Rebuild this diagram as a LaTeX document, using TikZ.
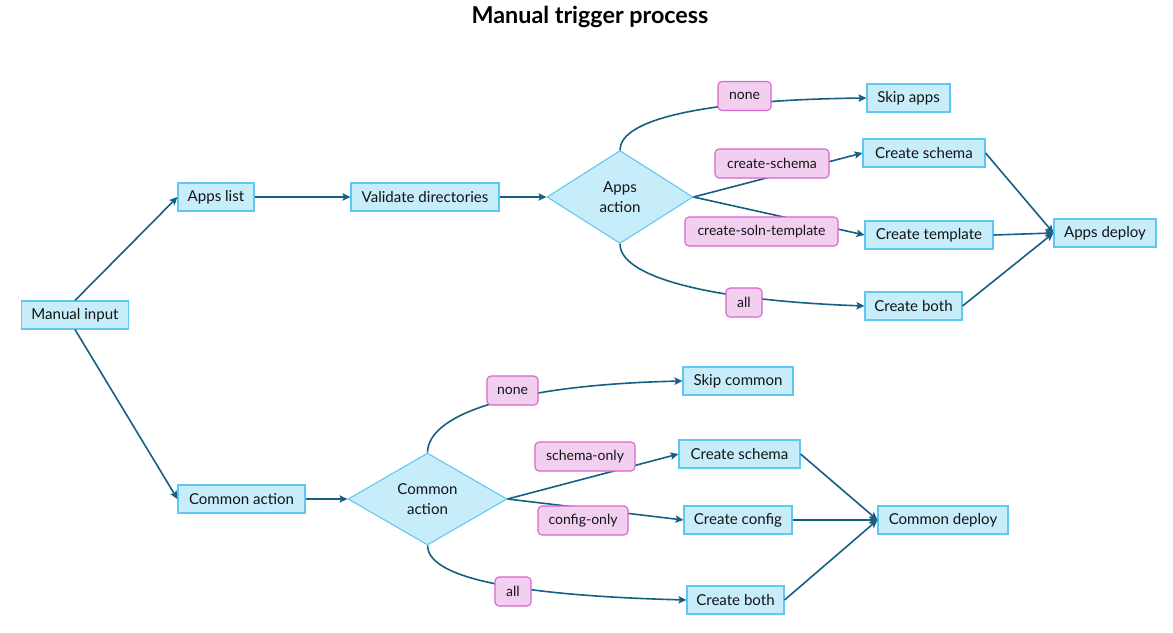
\documentclass[tikz,border=0pt]{standalone}
\usepackage{fontspec}
\setmainfont{Lato}
\usetikzlibrary{shapes.geometric,arrows.meta}
\definecolor{boxfill}{RGB}{199,236,250}
\definecolor{boxline}{RGB}{96,200,240}
\definecolor{lblfill}{RGB}{242,207,238}
\definecolor{lblline}{RGB}{214,100,205}
\definecolor{conn}{RGB}{21,96,130}
\definecolor{txt}{RGB}{20,20,20}
\tikzset{
  box/.style={draw=boxline, fill=boxfill, line width=0.8pt, minimum height=21pt, inner sep=0pt, text=txt, font=\fontsize{11.3}{13}\selectfont},
  dia/.style={diamond, draw=boxline, fill=boxfill, line width=0.8pt, inner sep=0pt, text=txt, align=center, font=\fontsize{11.3}{15}\selectfont},
  lbl/.style={draw=lblline, fill=lblfill, line width=0.8pt, rounded corners=3pt, minimum height=21.75pt, inner sep=0pt, text=txt, font=\fontsize{10.5}{12}\selectfont},
  arr/.style={draw=conn, line width=1.2pt, -{Stealth[length=6pt,width=5.5pt,inset=1.2pt]}},
}
\begin{document}
\begin{tikzpicture}[x=0.75pt,y=-0.75pt]
\useasboundingbox (0,0) rectangle (1173,632);
\node[font=\fontsize{17.5}{20}\selectfont\bfseries, text=black] (title) at (590,17) {Manual trigger process};
% top branch
\node[box, minimum width=80.25pt] (mi) at (75,315) {Manual input};
\node[box, minimum width=57pt] (al) at (216,197) {Apps list};
\node[box, minimum width=111pt] (vd) at (425,197) {Validate directories};
\node[dia, minimum width=109.5pt, minimum height=69.75pt] (aa) at (620,197) {Apps\\action};
\node[box, minimum width=62.25pt] (sa) at (908.5,98) {Skip apps};
\node[box, minimum width=91.5pt] (acs) at (924,153) {Create schema};
\node[box, minimum width=96pt] (act) at (929,235) {Create template};
\node[box, minimum width=72.75pt] (acb) at (913.5,306) {Create both};
\node[box, minimum width=76.5pt] (ad) at (1105,233) {Apps deploy};
% bottom branch
\node[box, minimum width=95.25pt] (ca) at (241.5,499) {Common action};
\node[dia, minimum width=119.25pt, minimum height=69pt] (cd) at (427.5,499) {Common\\action};
\node[box, minimum width=82.5pt] (sc) at (738,381) {Skip common};
\node[box, minimum width=90.75pt] (ccs) at (739.5,454) {Create schema};
\node[box, minimum width=81pt] (ccc) at (738,520) {Create config};
\node[box, minimum width=72.75pt] (ccb) at (735.5,600) {Create both};
\node[box, minimum width=97.5pt] (cdep) at (943,520) {Common deploy};
% connectors
\draw[arr] (mi.north) -- (al.west);
\draw[arr] (mi.south) -- (ca.west);
\draw[arr] (al.east) -- (vd.west);
\draw[arr] (vd.east) -- (aa.west);
\draw[arr] (aa.north) .. controls (620,120) and (700,100) .. (sa.west);
\draw[arr] (aa.east) -- (acs.west);
\draw[arr] (aa.east) -- (act.west);
\draw[arr] (aa.south) .. controls (620,275) and (700,300) .. (acb.west);
\draw[arr] (acs.east) -- (ad.west);
\draw[arr] (act.east) -- (ad.west);
\draw[arr] (acb.east) -- (ad.west);
\draw[arr] (ca.east) -- (cd.west);
\draw[arr] (cd.north) .. controls (428,415) and (510,385) .. (sc.west);
\draw[arr] (cd.east) -- (ccs.west);
\draw[arr] (cd.east) -- (ccc.west);
\draw[arr] (cd.south) .. controls (428,575) and (500,595) .. (ccb.west);
\draw[arr] (ccs.east) -- (cdep.west);
\draw[arr] (ccc.east) -- (cdep.west);
\draw[arr] (ccb.east) -- (cdep.west);
% labels
\node[lbl, minimum width=39.75pt] (la1) at (744.5,96) {none};
\node[lbl, minimum width=85.5pt] (la2) at (772,163.5) {create-schema};
\node[lbl, minimum width=114.75pt] (la3) at (761.5,231.5) {create-soln-template};
\node[lbl, minimum width=27pt] (la4) at (744,302.5) {all};
\node[lbl, minimum width=38.25pt] (lc1) at (512.5,390.5) {none};
\node[lbl, minimum width=75pt] (lc2) at (585,456.5) {schema-only};
\node[lbl, minimum width=67.5pt] (lc3) at (583,520.5) {config-only};
\node[lbl, minimum width=27pt] (lc4) at (513,591.5) {all};
\end{tikzpicture}
\end{document}
